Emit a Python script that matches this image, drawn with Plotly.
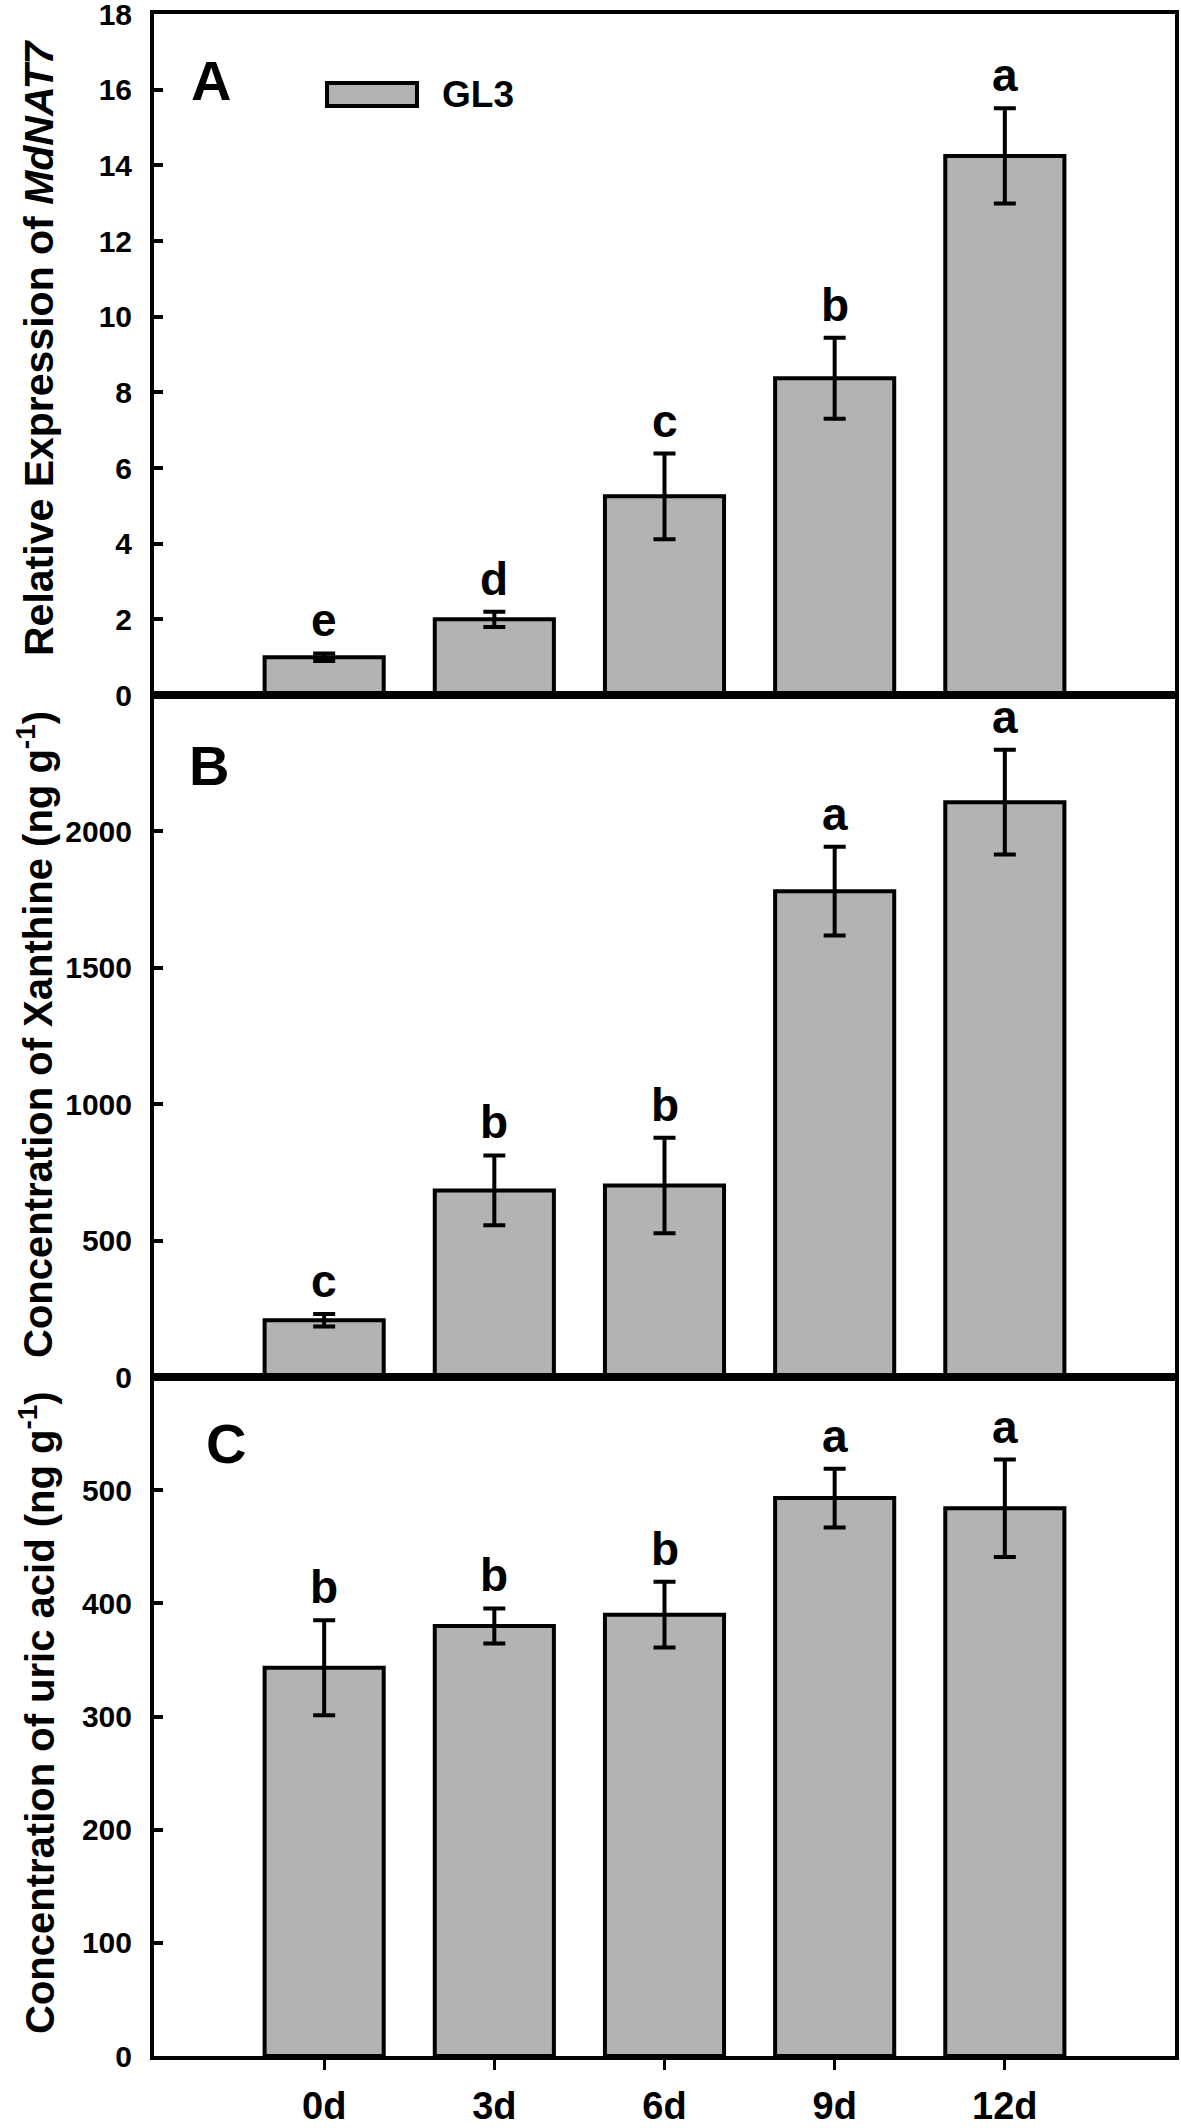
import plotly.graph_objects as go

# ---------------- data ----------------
categories = ["0d", "3d", "6d", "9d", "12d"]

expr_mean = [1.0, 2.0, 5.25, 8.37, 14.25]
expr_err = [0.1, 0.2, 1.13, 1.07, 1.26]
expr_letters = ["e", "d", "c", "b", "a"]

xan_mean = [208, 684, 702, 1781, 2107]
xan_err = [23, 128, 175, 163, 192]
xan_letters = ["c", "b", "b", "a", "a"]

uric_mean = [343, 380, 390, 493, 484]
uric_err = [42, 15.5, 29, 26, 43]
uric_letters = ["b", "b", "b", "a", "a"]

series_name = "GL3"
panel_labels = ["A", "B", "C"]
y_titles = [
    "Relative Expression of <i>MdNAT7</i>",
    "Concentration of Xanthine (ng g<sup>-1</sup>)",
    "Concentration of uric acid (ng g<sup>-1</sup>)",
]
y_ticks = [
    [0, 2, 4, 6, 8, 10, 12, 14, 16, 18],
    [0, 500, 1000, 1500, 2000],
    [0, 100, 200, 300, 400, 500],
]
y_ranges = [[0, 18], [0, 2500], [0, 600]]

# ---------------- layout geometry ----------------
W, H = 1181, 2128
ML, MR, MT, MB = 154, 6, 14, 72
PW, PH = W - ML - MR, H - MT - MB
FONT = "Liberation Sans, Arial, sans-serif"
BAR_FILL = "#b3b3b3"


def px_x(px):
    return (px - ML) / PW


def px_y(py):
    return (H - MB - py) / PH


# panel pixel boundaries (top, bottom)
panel_px = [(14, 695), (695, 1377), (1377, 2056)]
domains = [[px_y(b), px_y(t)] for t, b in panel_px]

fig = go.Figure()

means = [expr_mean, xan_mean, uric_mean]
errs = [expr_err, xan_err, uric_err]
letters = [expr_letters, xan_letters, uric_letters]

annotations = []
for i in range(3):
    xa = "x" if i == 0 else f"x{i+1}"
    ya = "y" if i == 0 else f"y{i+1}"
    fig.add_trace(go.Bar(
        x=categories, y=means[i], name=series_name, showlegend=False,
        width=0.7,
        marker=dict(color=BAR_FILL, line=dict(color="black", width=4)),
        error_y=dict(type="data", array=errs[i], visible=True,
                     color="black", thickness=4, width=11),
        xaxis=xa, yaxis=ya,
    ))
    for c, m, e, l in zip(categories, means[i], errs[i], letters[i]):
        annotations.append(dict(
            x=c, y=m + e, xref=xa, yref=ya, text=l, showarrow=False,
            yanchor="bottom", xanchor="center", yshift=5,
            font=dict(family=FONT, size=46, color="black", weight="bold"),
        ))

# panel letters
panel_pos = [(211, 80), (209, 765), (226, 1443)]
for lab, (px, py) in zip(panel_labels, panel_pos):
    annotations.append(dict(
        x=px_x(px), y=px_y(py), xref="paper", yref="paper", text=lab,
        showarrow=False, xanchor="center", yanchor="middle",
        font=dict(family=FONT, size=56, color="black", weight="bold"),
    ))

# axis titles
title_pos = [(39, 348, 41), (35, 1035, 40), (37, 1713, 40)]
for t, (px, py, fs) in zip(y_titles, title_pos):
    annotations.append(dict(
        x=px_x(px), y=px_y(py), xref="paper", yref="paper", text=t,
        showarrow=False, textangle=-90, xanchor="center", yanchor="middle",
        font=dict(family=FONT, size=fs, color="black", weight="bold"),
    ))

# legend text
annotations.append(dict(
    x=px_x(440), y=px_y(95), xref="paper", yref="paper", text=series_name,
    showarrow=False, xanchor="left", yanchor="middle",
    font=dict(family=FONT, size=37, color="black", weight="bold"),
))

shapes = [dict(
    type="rect", xref="paper", yref="paper",
    x0=px_x(327), x1=px_x(417), y0=px_y(106), y1=px_y(83),
    fillcolor=BAR_FILL, line=dict(color="black", width=4),
)]

layout = dict(
    width=W, height=H,
    margin=dict(l=ML, r=MR, t=MT, b=MB, pad=0, autoexpand=False),
    paper_bgcolor="white", plot_bgcolor="white",
    font=dict(family=FONT, color="black"),
    annotations=annotations, shapes=shapes,
    bargap=0.3,
)

for i in range(3):
    xk = "xaxis" if i == 0 else f"xaxis{i+1}"
    yk = "yaxis" if i == 0 else f"yaxis{i+1}"
    ya = "y" if i == 0 else f"y{i+1}"
    xa = "x" if i == 0 else f"x{i+1}"
    last = (i == 2)
    layout[xk] = dict(
        domain=[0, 1], anchor=ya, type="category",
        categoryorder="array", categoryarray=categories,
        range=[-1, 5], showline=True, linecolor="black", linewidth=4,
        mirror=True, showgrid=False, zeroline=False, automargin=False,
        ticks="outside" if last else "", ticklen=10, tickwidth=3,
        tickcolor="black", showticklabels=last,
        ticklabelstandoff=3,
        tickfont=dict(family=FONT, size=38, color="black", weight="bold"),
    )
    layout[yk] = dict(
        domain=domains[i], anchor=xa, range=y_ranges[i],
        tickvals=y_ticks[i], showline=True, linecolor="black", linewidth=4,
        mirror=True, showgrid=False, zeroline=False, automargin=False,
        ticks="inside", ticklen=9, tickwidth=4, tickcolor="black",
        ticklabelstandoff=12, ticklabeloverflow="allow",
        tickfont=dict(family=FONT, size=30, color="black", weight="bold"),
    )

fig.update_layout(**layout)
fig.write_html(
    "out.html",
    config={"displayModeBar": False},
    post_script="document.body.style.margin='0px';"
                "document.body.style.overflow='hidden';",
)
